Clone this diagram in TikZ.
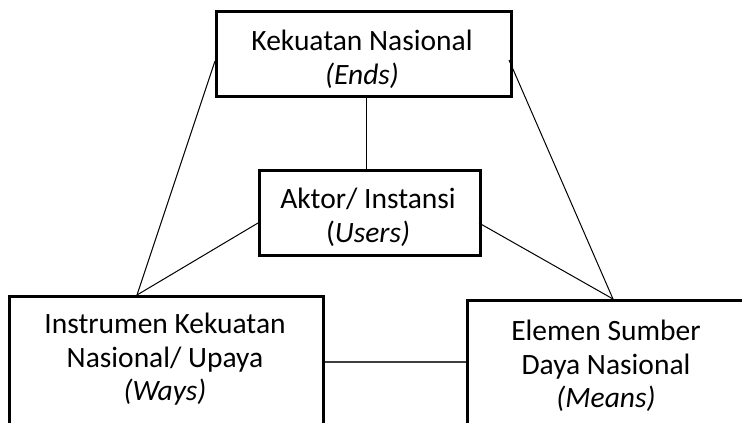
\documentclass[tikz,border=0pt]{standalone}
\usepackage{fontspec}
\setmainfont{Carlito}
\usetikzlibrary{calc}
\begin{document}
\begin{tikzpicture}[x=1pt,y=-1pt,
  box/.style={draw=black,line width=2.6pt,fill=white,inner sep=0pt,anchor=north west},
  txt/.style={align=center,inner sep=0pt,anchor=north,font=\fontsize{29.5}{33.5}\selectfont},
  link/.style={draw=black,line width=1pt}]
\useasboundingbox (0,0) rectangle (742,423);
\clip (0,0) rectangle (742,423);
\coordinate (waysTop) at (137,295);
\coordinate (meansTop) at (613,299);
\coordinate (endsL) at (215,61);
\coordinate (endsR) at (509,60);
\coordinate (usersL) at (258,223);
\coordinate (usersR) at (479,223);
\coordinate (endsB) at (366,95);
\coordinate (usersTop) at (366,169);
% boxes
\node[box,minimum width=295pt,minimum height=85pt] (ends) at (215,10) {};
\node[box,minimum width=221pt,minimum height=85pt] (users) at (258,169) {};
\node[box,minimum width=314pt,minimum height=160pt] (ways) at (8,295) {};
\node[box,minimum width=290pt,minimum height=160pt] (means) at (466,299) {};
% texts
\node[txt] (endsT) at (362,30) {Kekuatan Nasional\\\textit{(Ends)}};
\node[txt] (usersT) at (368,188) {Aktor/ Instansi\\(\textit{Users)}};
\node[txt] (waysT) at (165,313) {Instrumen Kekuatan\\Nasional/ Upaya\\\textit{(Ways)}};
\node[txt] (meansT) at (606,320) {Elemen Sumber\\Daya Nasional\\\textit{(Means)}};
% links
\draw[link] (endsL) -- (waysTop);
\draw[link] (endsR) -- (meansTop);
\draw[link] (usersL) -- (waysTop);
\draw[link] (usersR) -- (meansTop);
\draw[link] (endsB) -- (usersTop);
\draw[link,line width=1.5pt,draw=black!75] (ways.east |- 0,362) -- (means.west |- 0,362);
\end{tikzpicture}
\end{document}
